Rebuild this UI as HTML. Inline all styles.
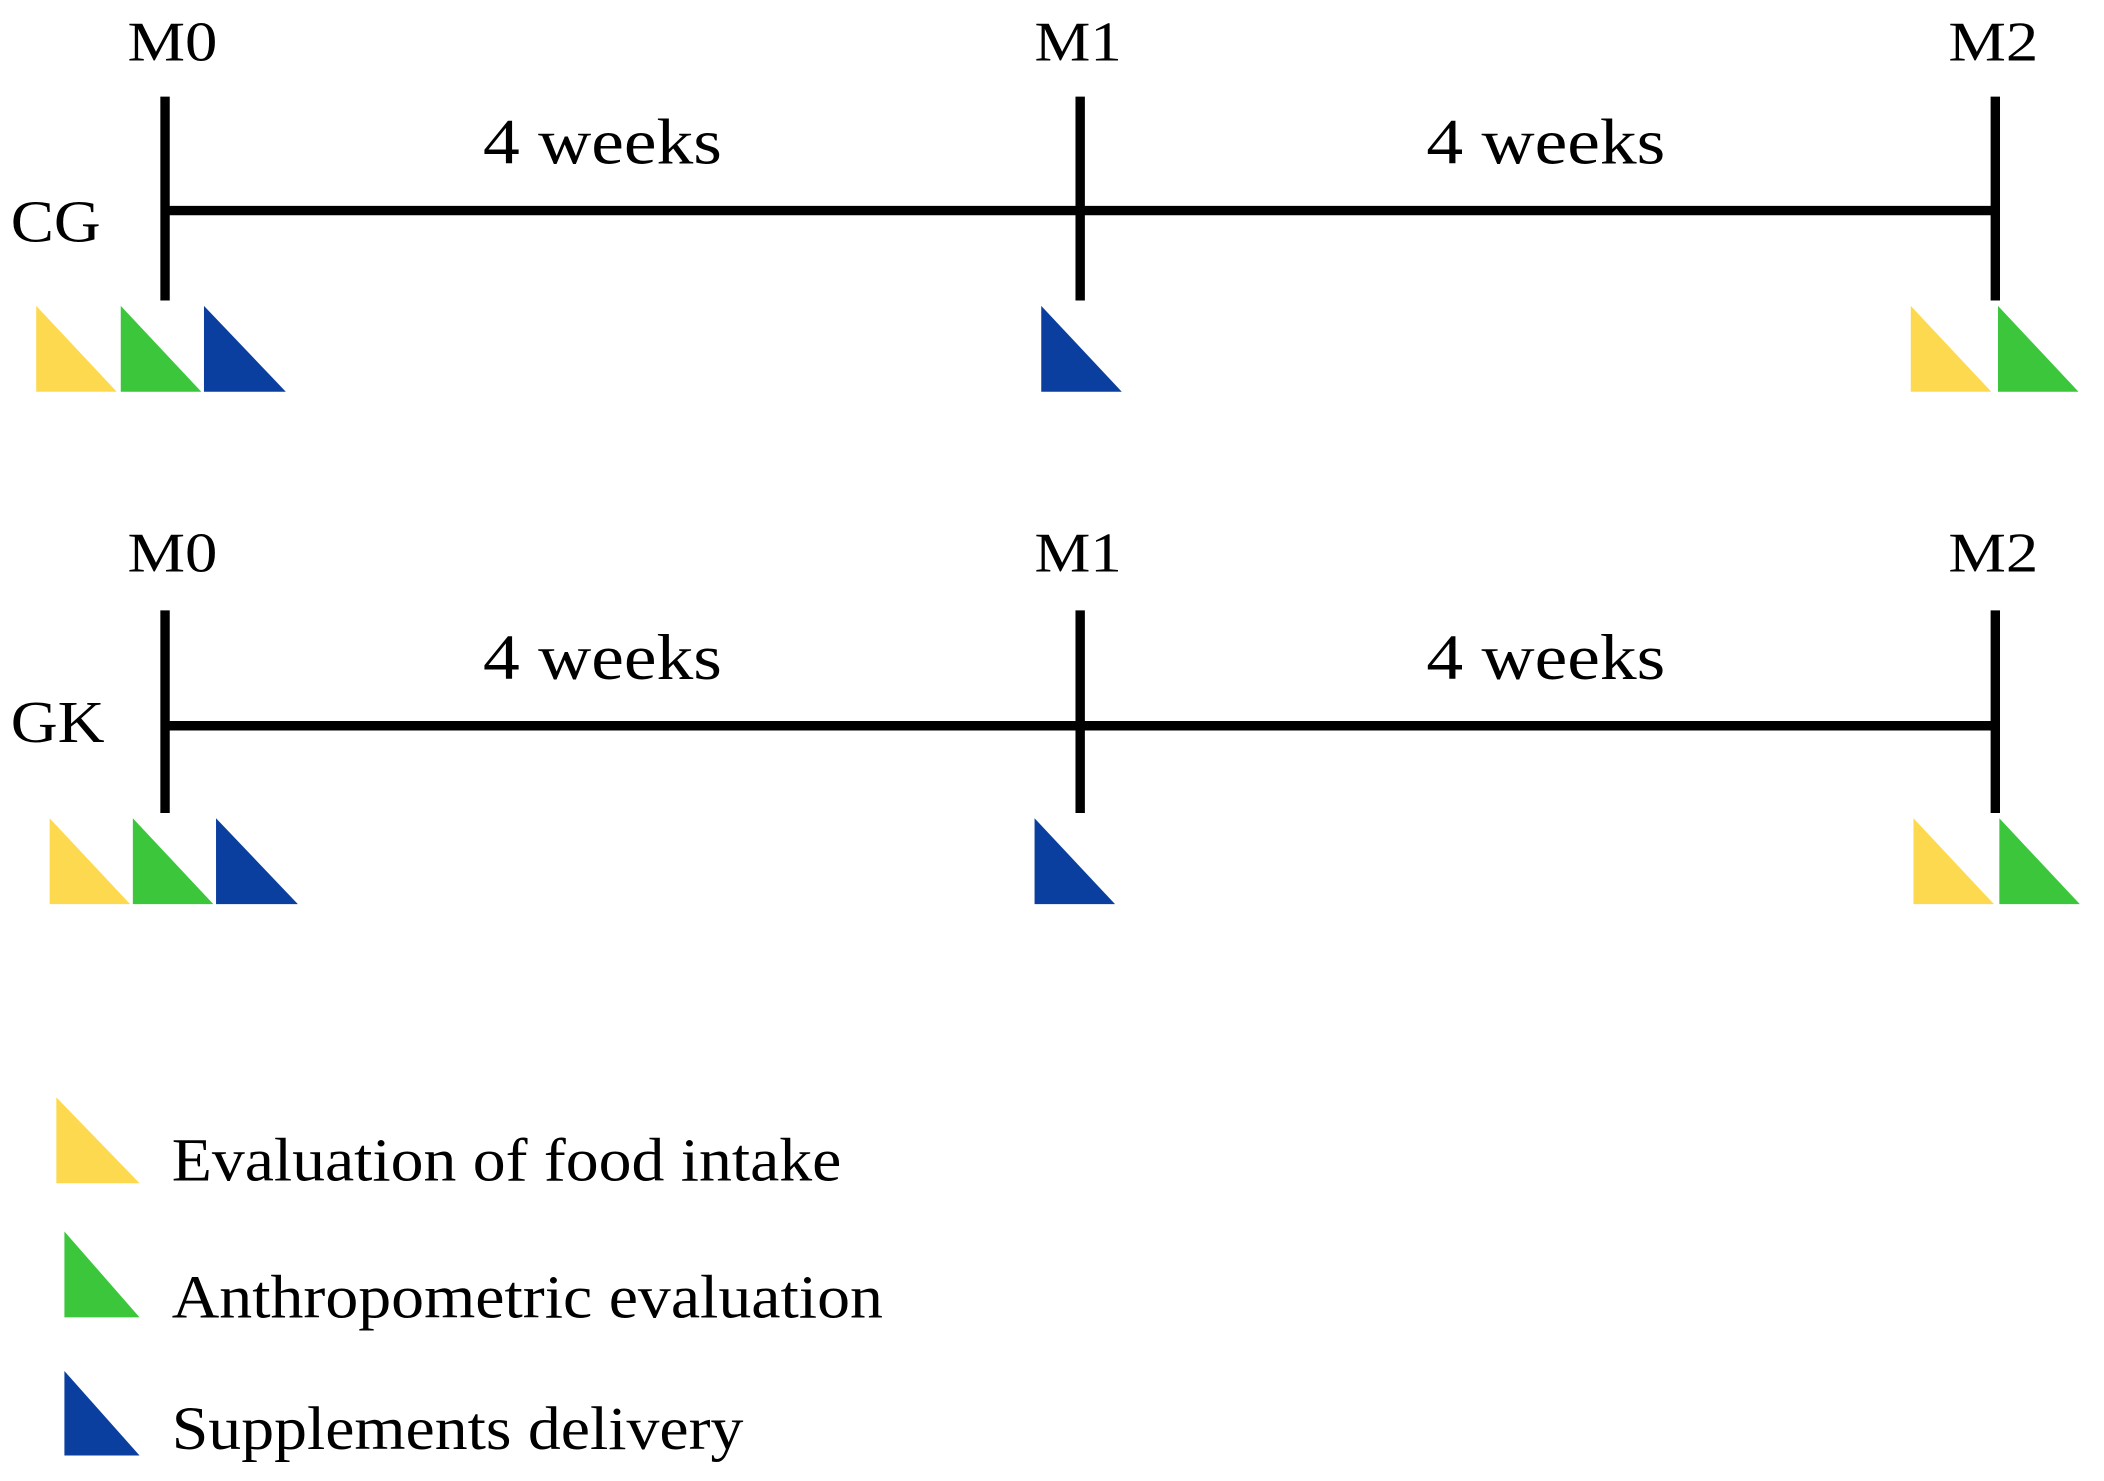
<!DOCTYPE html>
<html><head><style>html,body{margin:0;padding:0;background:#fff;}svg{display:block}</style></head>
<body>
<svg width="2104" height="1481" viewBox="0 0 1568 1104" preserveAspectRatio="none" xmlns="http://www.w3.org/2000/svg" font-family="Liberation Serif, serif" fill="#000">
<g stroke="#000" stroke-width="7">
<line x1="123" y1="72" x2="123" y2="224"/><line x1="805" y1="72" x2="805" y2="224"/><line x1="1487" y1="72" x2="1487" y2="224"/>
<line x1="123" y1="157" x2="1487" y2="157"/>
<line x1="123" y1="455" x2="123" y2="606"/><line x1="805" y1="455" x2="805" y2="606"/><line x1="1487" y1="455" x2="1487" y2="606"/>
<line x1="123" y1="541" x2="1487" y2="541"/>
</g>
<g font-size="42" lengthAdjust="spacingAndGlyphs">
<text x="95" y="45" textLength="67" lengthAdjust="spacingAndGlyphs">M0</text>
<text x="771" y="45" textLength="65" lengthAdjust="spacingAndGlyphs">M1</text>
<text x="1452" y="45" textLength="67" lengthAdjust="spacingAndGlyphs">M2</text>
<text x="95" y="426" textLength="67" lengthAdjust="spacingAndGlyphs">M0</text>
<text x="771" y="426" textLength="65" lengthAdjust="spacingAndGlyphs">M1</text>
<text x="1452" y="426" textLength="67" lengthAdjust="spacingAndGlyphs">M2</text>
</g>
<g font-size="48">
<text x="360" y="122" textLength="178" lengthAdjust="spacingAndGlyphs">4 weeks</text>
<text x="1063" y="122" textLength="178" lengthAdjust="spacingAndGlyphs">4 weeks</text>
<text x="360" y="506" textLength="178" lengthAdjust="spacingAndGlyphs">4 weeks</text>
<text x="1063" y="506" textLength="178" lengthAdjust="spacingAndGlyphs">4 weeks</text>
</g>
<text x="8" y="180" font-size="44" textLength="67" lengthAdjust="spacingAndGlyphs">CG</text>
<text x="8" y="553" font-size="44" textLength="70" lengthAdjust="spacingAndGlyphs">GK</text>
<g>
<polygon points="27,228 27,292 87,292" fill="#fdd94f"/>
<polygon points="90,228 90,292 150,292" fill="#3cc63c"/>
<polygon points="152,228 152,292 213,292" fill="#0a3f9f"/>
<polygon points="776,228 776,292 836,292" fill="#0a3f9f"/>
<polygon points="1424,228 1424,292 1484,292" fill="#fdd94f"/>
<polygon points="1489,228 1489,292 1549,292" fill="#3cc63c"/>
<polygon points="37,610 37,674 97,674" fill="#fdd94f"/>
<polygon points="99,610 99,674 159,674" fill="#3cc63c"/>
<polygon points="161,610 161,674 222,674" fill="#0a3f9f"/>
<polygon points="771,610 771,674 831,674" fill="#0a3f9f"/>
<polygon points="1426,610 1426,674 1486,674" fill="#fdd94f"/>
<polygon points="1490,610 1490,674 1550,674" fill="#3cc63c"/>
<polygon points="42,818 42,882 104,882" fill="#fdd94f"/>
<polygon points="48,918 48,982 104,982" fill="#3cc63c"/>
<polygon points="48,1022 48,1085 104,1085" fill="#0a3f9f"/>
</g>
<g font-size="46">
<text x="128" y="880" textLength="499" lengthAdjust="spacingAndGlyphs">Evaluation of food intake</text>
<text x="128" y="982" textLength="530" lengthAdjust="spacingAndGlyphs">Anthropometric evaluation</text>
<text x="128" y="1080" textLength="426" lengthAdjust="spacingAndGlyphs">Supplements delivery</text>
</g>
</svg>
</body></html>
